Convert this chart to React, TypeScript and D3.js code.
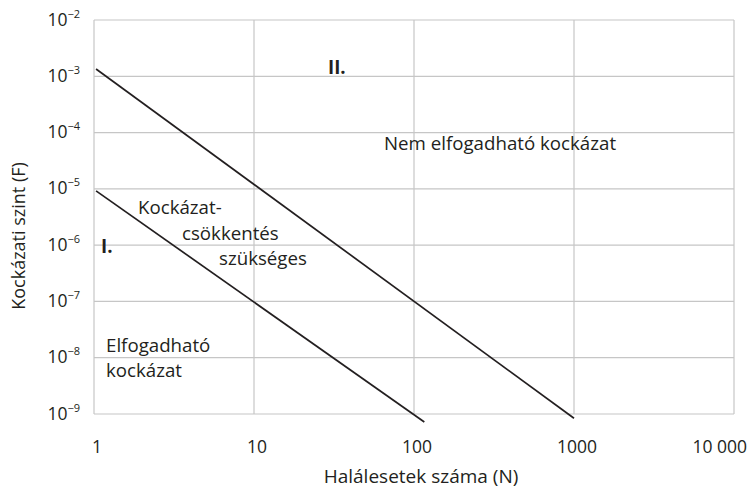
import React from 'react';
import * as d3 from 'd3';

// x axis: number of fatalities (N), log scale
const xTicks = [1, 10, 100, 1000, 10000];
const xTickLabels = ['1', '10', '100', '1000', '10 000'];

// y axis: risk level (F), powers of ten
const yExponents = [-2, -3, -4, -5, -6, -7, -8, -9];

// the two boundary lines
const upperN = [1.03, 1000];
const upperF = [1.35e-3, 8.4e-10];
const lowerN = [1.03, 116];
const lowerF = [9.2e-6, 7.2e-10];

const xTitle = 'Halálesetek száma (N)';
const yTitle = 'Kockázati szint (F)';
const zoneUpper = ['II.', 'Nem elfogadható kockázat'];
const zoneMiddle = ['Kockázat-', 'csökkentés', 'szükséges'];
const zoneLower = ['I.', 'Elfogadható', 'kockázat'];

const W = 750;
const H = 491;
const FONT = '"Open Sans", sans-serif';
const GRID = '#c6c6c6';
const LABEL = 18.7;

export default function App() {
  const x = d3.scaleLog().domain([1, 10000]).range([94, 734]);
  const y = d3.scaleLog().domain([1e-9, 1e-2]).range([414, 20]);

  const line = d3
    .line<[number, number]>()
    .x((d) => x(d[0]))
    .y((d) => y(d[1]));

  const upper = upperN.map((n, i) => [n, upperF[i]] as [number, number]);
  const lower = lowerN.map((n, i) => [n, lowerF[i]] as [number, number]);

  return (
    <svg
      width={W}
      height={H}
      style={{ position: 'absolute', left: 0, top: 0, background: '#fff' }}
      fontFamily={FONT}
      fill="#231f20"
    >
      {/* grid */}
      {xTicks.map((t) => (
        <line key={'gx' + t} x1={x(t)} x2={x(t)} y1={y(1e-2)} y2={y(1e-9)} stroke={GRID} strokeWidth={1.2} />
      ))}
      {yExponents.map((e) => (
        <line key={'gy' + e} x1={x(1)} x2={x(10000)} y1={y(Math.pow(10, e))} y2={y(Math.pow(10, e))} stroke={GRID} strokeWidth={1.2} />
      ))}

      {/* y tick labels */}
      {yExponents.map((e) => (
        <text key={'ty' + e} x={80} y={y(Math.pow(10, e)) + 5.5} textAnchor="end" fontSize={17.5}>
          10
          <tspan dy={-8} fontSize={11}>{'\u2212' + Math.abs(e)}</tspan>
        </text>
      ))}

      {/* x tick labels */}
      {xTicks.map((t, i) =>
        i === xTicks.length - 1 ? (
          <text key={'tx' + t} x={747} y={453} textAnchor="end" fontSize={17.5}>
            {xTickLabels[i]}
          </text>
        ) : (
          <text key={'tx' + t} x={x(t) + 3} y={453} textAnchor="middle" fontSize={17.5}>
            {xTickLabels[i]}
          </text>
        )
      )}

      {/* axis titles */}
      <text x={421} y={483} textAnchor="middle" fontSize={19}>
        {xTitle}
      </text>
      <text transform="translate(25,236) rotate(-90)" textAnchor="middle" fontSize={18}>
        {yTitle}
      </text>

      {/* boundary lines */}
      <path d={line(upper) || ''} fill="none" stroke="#231f20" strokeWidth={1.7} />
      <path d={line(lower) || ''} fill="none" stroke="#231f20" strokeWidth={1.7} />

      {/* zone labels */}
      <text x={328} y={74} fontSize={LABEL} fontWeight="bold">{zoneUpper[0]}</text>
      <text x={384} y={150} fontSize={LABEL}>{zoneUpper[1]}</text>

      <text x={138} y={214} fontSize={LABEL}>{zoneMiddle[0]}</text>
      <text x={182} y={240} fontSize={LABEL}>{zoneMiddle[1]}</text>
      <text x={219} y={265} fontSize={LABEL}>{zoneMiddle[2]}</text>

      <text x={101} y={253} fontSize={LABEL} fontWeight="bold">{zoneLower[0]}</text>
      <text x={106} y={352} fontSize={LABEL}>{zoneLower[1]}</text>
      <text x={106} y={377} fontSize={LABEL}>{zoneLower[2]}</text>
    </svg>
  );
}
